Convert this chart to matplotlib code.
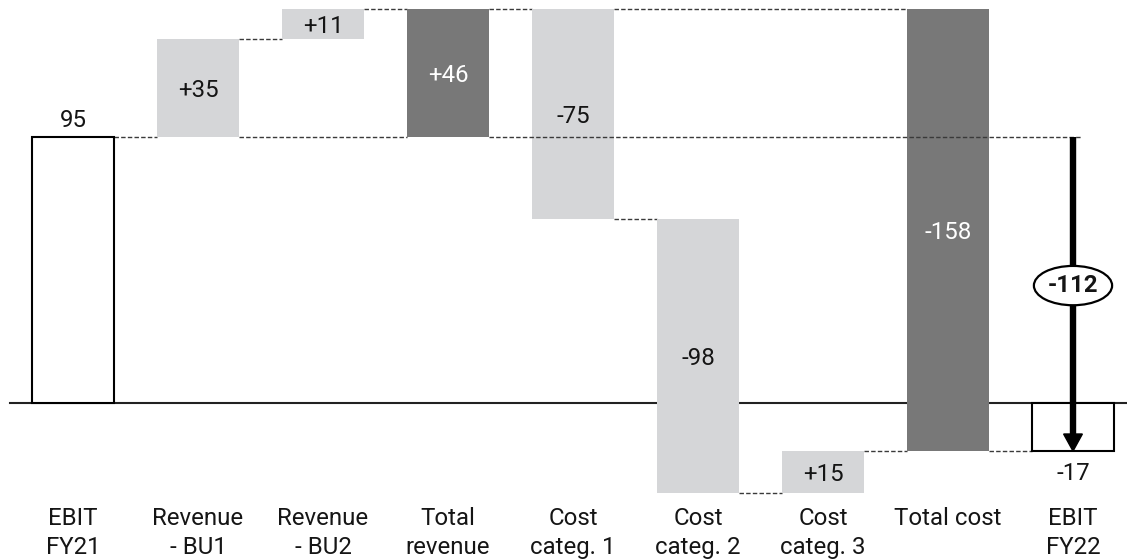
#!/usr/bin/env python3
"""Waterfall chart: EBIT FY21 -> EBIT FY22 bridge."""

import matplotlib as mpl
import matplotlib.pyplot as plt
from matplotlib.patches import Polygon

mpl.rcParams.update({
    "font.family": ["Roboto", "DejaVu Sans"],
    "font.size": 17.3,
})

# ---- data -------------------------------------------------------------
categories = [
    "EBIT\nFY21", "Revenue\n- BU1", "Revenue\n- BU2", "Total\nrevenue",
    "Cost\ncateg. 1", "Cost\ncateg. 2", "Cost\ncateg. 3", "Total cost",
    "EBIT\nFY22",
]
ebit_fy21 = 95
revenue_deltas = [35, 11]
cost_deltas = [-75, -98, 15]

LIGHT = "#d5d6d8"
DARK = "#787878"
DASH_COLOR = "#3a3a3a"
TEXT = "#151515"


def fmt(v):
    return f"+{v}" if v > 0 else f"{v}"


def main() -> None:
    fig = plt.figure(figsize=(11.27, 5.6), dpi=100)
    ax = fig.add_axes([0, 0, 1, 1])
    ax.set_xlim(-0.584, 8.432)
    ax.set_ylim(-55.9, 144.1)
    ax.axis("off")

    width = 0.656
    half = width / 2

    total_revenue = sum(revenue_deltas)
    total_cost = sum(cost_deltas)
    ebit_fy22 = ebit_fy21 + total_revenue + total_cost
    rev_top = ebit_fy21 + total_revenue

    # floating delta bars: (x, bottom, top, delta)
    bars = []
    level = ebit_fy21
    for i, d in enumerate(revenue_deltas):
        bars.append((1 + i, level, level + d, d))
        level += d
    cost_bars = []
    level = rev_top
    for i, d in enumerate(cost_deltas):
        cost_bars.append((4 + i, level, level + d, d))
        level += d

    # baseline
    ax.plot([-0.504, 8.432], [0, 0], color="#222222", lw=1.5, zorder=1)

    def dash(x0, x1, y, z=2):
        ax.plot([x0, x1], [y, y], color=DASH_COLOR, lw=1.0,
                linestyle=(0, (3.2, 1.6)), zorder=z)

    # start and end totals (outlined)
    for x, v in [(0, ebit_fy21), (8, ebit_fy22)]:
        ax.bar(x, v, width=width, bottom=0, facecolor="white",
               edgecolor="black", lw=1.5, zorder=3)
    ax.text(0, ebit_fy21 + 3.8, str(ebit_fy21), ha="center", va="baseline",
            color=TEXT)
    ax.text(8, ebit_fy22 - 10.5, str(ebit_fy22), ha="center", va="baseline",
            color=TEXT)

    # delta bars
    for x, lo, hi, d in bars + cost_bars:
        ax.bar(x, hi - lo, width=width, bottom=lo, color=LIGHT, zorder=3)
        ax.text(x, (lo + hi) / 2, fmt(d), ha="center", va="center_baseline",
                color=TEXT, zorder=5)

    # subtotal bars
    ax.bar(3, total_revenue, width=width, bottom=ebit_fy21, color=DARK, zorder=3)
    ax.text(3, ebit_fy21 + total_revenue / 2, fmt(total_revenue),
            ha="center", va="center_baseline", color="white", zorder=5)
    ax.bar(7, total_cost, width=width, bottom=rev_top, color=DARK, zorder=3)
    ax.text(7, rev_top + total_cost / 2, fmt(total_cost),
            ha="center", va="center_baseline", color="white", zorder=5)

    # connectors
    dash(0 + half, 1 - half, ebit_fy21)
    dash(1 + half, 2 - half, ebit_fy21 + revenue_deltas[0])
    dash(2 + half, 3 - half, rev_top)
    dash(1 + half, 3 - half, ebit_fy21)
    dash(3 + half, 4 - half, rev_top)
    dash(4 + half, 7 - half, rev_top)
    for x, lo, hi, d in cost_bars[:-1]:
        dash(x + half, x + 1 - half, hi)
    dash(6 + half, 7 - half, ebit_fy22)
    dash(7 + half, 8 - half, ebit_fy22)
    dash(3 + half, 8 + 0.07, ebit_fy21, z=4)

    # change arrow
    head_h = 6.1
    head_w = 0.075
    ax.plot([8, 8], [ebit_fy21, ebit_fy22 + head_h], color="black",
            lw=4.6, solid_capstyle="butt", zorder=6)
    ax.add_patch(Polygon([(8 - head_w, ebit_fy22 + head_h),
                          (8 + head_w, ebit_fy22 + head_h),
                          (8, ebit_fy22)], closed=True,
                         facecolor="black", edgecolor="black", zorder=6))
    ax.text(8, 43, fmt(ebit_fy22 - ebit_fy21), ha="center",
            va="center_baseline", fontweight="bold", color=TEXT, zorder=7,
            bbox=dict(boxstyle="ellipse,pad=0.1", facecolor="white",
                      edgecolor="black", lw=1.6))

    # category labels
    for i, cat in enumerate(categories):
        lines = cat.split("\n")
        ax.text(i, -43.4, lines[0], ha="center", va="baseline", color=TEXT)
        if len(lines) > 1:
            ax.text(i, -53.8, lines[1], ha="center", va="baseline", color=TEXT)

    fig.savefig("out.png", dpi=100)
    plt.close(fig)


if __name__ == "__main__":
    main()
